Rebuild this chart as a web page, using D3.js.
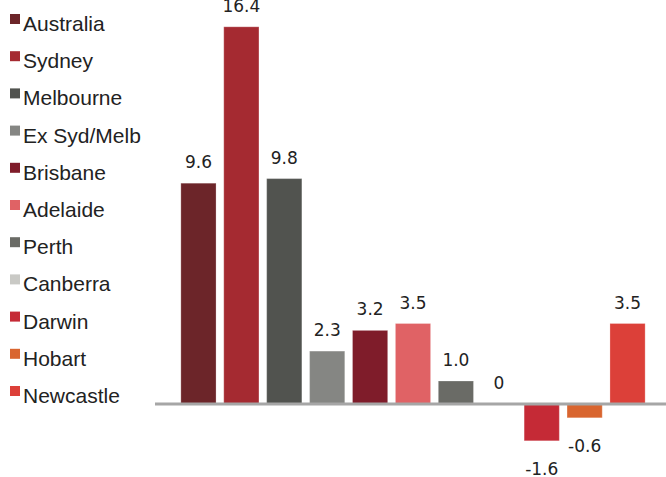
<!DOCTYPE html>
<html>
<head>
<meta charset="utf-8">
<script src="https://cdn.jsdelivr.net/npm/d3@7"></script>
<style>
  html, body { margin: 0; padding: 0; background: #fff; }
  svg { display: block; }
</style>
</head>
<body>
<div id="dataviz-container"></div>
<script>
var categories = ["Australia", "Sydney", "Melbourne", "Ex Syd/Melb", "Brisbane", "Adelaide",
                  "Perth", "Canberra", "Darwin", "Hobart", "Newcastle"];
var values = [9.6, 16.4, 9.8, 2.3, 3.2, 3.5, 1.0, 0, -1.6, -0.6, 3.5];
var valueLabels = ["9.6", "16.4", "9.8", "2.3", "3.2", "3.5", "1.0", "0", "-1.6", "-0.6", "3.5"];
var colors = ["#6c2529", "#a52a31", "#51534f", "#858683", "#7f1c2a", "#e06265",
              "#6a6b66", "#c9c9c5", "#c52a36", "#d9652f", "#dc4039"];

var width = 666, height = 477;

var svg = d3.select("#dataviz-container").append("svg")
    .attr("width", width)
    .attr("height", height);

var x = d3.scaleBand()
    .domain(categories)
    .range([177, 649])
    .paddingInner(0.18)
    .paddingOuter(0.09);

var y = d3.scaleLinear()
    .domain([-3, 17])
    .range([473, 13]);

var data = categories.map(function(c, i) {
    return { name: c, value: values[i], label: valueLabels[i], color: colors[i] };
});

// bars
svg.selectAll("rect.bar")
   .data(data)
   .enter()
   .append("rect")
   .attr("class", "bar")
   .attr("x", function(d) { return x(d.name); })
   .attr("y", function(d) { return d.value >= 0 ? y(d.value) : y(0); })
   .attr("width", x.bandwidth())
   .attr("height", function(d) { return Math.abs(y(d.value) - y(0)); })
   .attr("fill", function(d) { return d.color; })
   .attr("stroke", "rgba(255,255,255,0.25)")
   .attr("stroke-width", 1);

// zero line
svg.append("line")
   .attr("x1", 155)
   .attr("x2", width)
   .attr("y1", y(0))
   .attr("y2", y(0))
   .attr("stroke", "#a6a6a6")
   .attr("stroke-width", 3);

// value labels
svg.selectAll("text.val")
   .data(data)
   .enter()
   .append("text")
   .attr("class", "val")
   .attr("x", function(d) { return x(d.name) + x.bandwidth() / 2; })
   .attr("y", function(d) {
       return d.value >= 0 ? y(d.value) - 15 : y(d.value) + 34;
   })
   .style("text-anchor", "middle")
   .style("font-size", "17px")
   .style("font-family", "'DejaVu Sans', Verdana, sans-serif")
   .style("fill", "#222")
   .text(function(d) { return d.label; });

// legend
var legend = svg.selectAll("g.legend")
   .data(data)
   .enter()
   .append("g")
   .attr("class", "legend")
   .attr("transform", function(d, i) { return "translate(0," + (31 + i * 37.2) + ")"; });

legend.append("rect")
   .attr("x", 10)
   .attr("y", -17)
   .attr("width", 10)
   .attr("height", 10)
   .attr("fill", function(d) { return d.color; });

legend.append("text")
   .attr("x", 23)
   .attr("y", 0)
   .style("font-size", "21px")
   .style("font-family", "'Liberation Sans', Arial, sans-serif")
   .style("fill", "#222")
   .text(function(d) { return d.name; });
</script>
</body>
</html>
